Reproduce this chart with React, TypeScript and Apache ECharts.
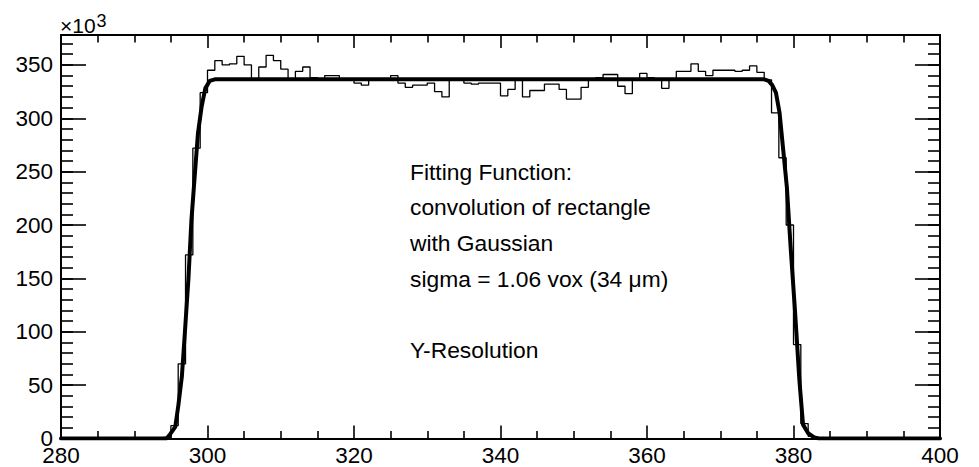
import React, { useEffect, useRef } from "react";
import * as echarts from "echarts";

// ---- axis / tick definitions ----
const xTicks = [280, 300, 320, 340, 360, 380, 400];
const yTicks = [0, 50, 100, 150, 200, 250, 300, 350];
const yMax = 378;
const xMinorPerMajor = 4;
const yMinorStep = 10;

// ---- histogram (bin width 1, first bin starts at 294) ----
const binFirst = 294;
const binWidth = 1;
const binCounts = [
  1, 12, 70, 172, 272, 324,
  345, 354, 350, 351, 358, 350, 337, 348, 359, 354,
  346, 337, 344, 348, 338, 337, 340, 340, 337, 336,
  333, 331, 336, 337, 336, 340, 333, 329, 331, 331,
  333, 325, 320, 337, 337, 333, 332, 333, 333, 333,
  321, 327, 336, 320, 326, 326, 332, 332, 327, 318,
  318, 329, 337, 338, 341, 341, 330, 323, 337, 342,
  338, 336, 328, 337, 344, 344, 351, 344, 340, 345,
  345, 345, 344, 345, 349, 343, 336, 305, 263, 200,
  88, 14, 2,
];

// ---- fitted curve ----
const fitX = [
  280, 294.4, 294.9, 295.6, 296.0, 296.5, 296.9, 297.4, 297.8, 298.3, 298.7,
  299.2, 299.7, 300.3, 301.0, 376.0, 376.6, 377.1, 377.6, 378.1, 378.6,
  379.1, 379.6, 380.2, 380.8, 381.3, 382.0, 382.8, 383.5, 400,
];
const fitY = [
  0, 0, 4, 11, 30, 58, 98, 150, 204, 250, 286,
  311, 328, 335, 336.5, 336.5, 335, 331, 324, 305, 270,
  235, 180, 120, 55, 13, 5, 1, 0, 0,
];

// ---- annotation text ----
const noteLines = [
  "Fitting Function:",
  "convolution of rectangle",
  "with Gaussian",
  "sigma = 1.06 vox (34 μm)",
  "",
  "Y-Resolution",
];
const exponentBase = "×10";
const exponentPower = "3";

const FONT = '"Liberation Sans", Arial, Helvetica, sans-serif';

export default function App() {
  const ref = useRef<HTMLDivElement>(null);

  useEffect(() => {
    if (!ref.current) return;
    const chart = echarts.init(ref.current, undefined, { renderer: "svg" });

    const histData: number[][] = [[binFirst, 0]];
    binCounts.forEach((c, i) => {
      const lo = binFirst + i * binWidth;
      histData.push([lo, c], [lo + binWidth, c]);
    });
    histData.push([binFirst + binCounts.length * binWidth, 0]);

    const fitData = fitX.map((x, i) => [x, fitY[i]]);

    const xMin = xTicks[0];
    const xMax = xTicks[xTicks.length - 1];
    const xInterval = xTicks[1] - xTicks[0];
    const yInterval = yTicks[1] - yTicks[0];

    const gridRect = { left: 61, top: 35, width: 879, height: 403.5 };
    const lineCol = "#000";

    const baseX = (position: "top" | "bottom", labels: boolean) => ({
      gridIndex: 0,
      type: "value",
      position,
      min: xMin,
      max: xMax,
      interval: xInterval,
      axisLine: { show: true, onZero: false, lineStyle: { color: lineCol, width: 2 } },
      axisTick: { show: true, inside: true, length: 13, lineStyle: { color: lineCol, width: 1.6 } },
      minorTick: {
        show: true,
        splitNumber: xMinorPerMajor,
        length: 7.5,
        lineStyle: { color: lineCol, width: 1.6 },
      },
      axisLabel: {
        show: labels,
        margin: 5,
        fontSize: 22.5,
        color: "#000",
        fontFamily: FONT,
        showMinLabel: true,
        showMaxLabel: true,
      },
      splitLine: { show: false },
      minorSplitLine: { show: false },
    });

    const baseY = (
      gridIndex: number,
      position: "left" | "right",
      interval: number,
      tickLen: number,
      showLine: boolean,
      labels: boolean
    ) => ({
      gridIndex,
      type: "value",
      position,
      min: 0,
      max: yMax,
      interval,
      axisLine: { show: showLine, onZero: false, lineStyle: { color: lineCol, width: 2 } },
      axisTick: { show: true, inside: true, length: tickLen, lineStyle: { color: lineCol, width: 1.6 } },
      axisLabel: {
        show: labels,
        margin: 8,
        fontSize: 22.5,
        color: "#000",
        fontFamily: FONT,
        padding: [6, 0, 0, 0],
        formatter: (v: number) => (yTicks.indexOf(v) >= 0 ? String(v) : ""),
      },
      splitLine: { show: false },
    });

    const graphic: any[] = [
      {
        type: "text",
        x: 60,
        y: 25.2,
        style: {
          text: exponentBase,
          font: `21px ${FONT}`,
          fill: "#000",
          align: "left",
          verticalAlign: "middle",
        },
      },
      {
        type: "text",
        x: 96.5,
        y: 20.5,
        style: {
          text: exponentPower,
          font: `18px ${FONT}`,
          fill: "#000",
          align: "left",
          verticalAlign: "middle",
        },
      },
    ];
    noteLines.forEach((t, i) => {
      if (!t) return;
      graphic.push({
        type: "text",
        x: 410,
        y: 171.7 + i * 35.6,
        style: {
          text: t,
          font: `22.8px ${FONT}`,
          fill: "#000",
          align: "left",
          verticalAlign: "middle",
        },
      });
    });

    chart.setOption({
      animation: false,
      backgroundColor: "#fff",
      textStyle: { fontFamily: FONT },
      grid: [{ ...gridRect }, { ...gridRect }],
      xAxis: [
        baseX("bottom", true),
        baseX("top", false),
        { gridIndex: 1, type: "value", min: xMin, max: xMax, show: false },
      ],
      yAxis: [
        baseY(0, "left", yInterval, 25, true, true),
        baseY(0, "right", yInterval, 25, true, false),
        baseY(1, "left", yMinorStep, 12, false, false),
        baseY(1, "right", yMinorStep, 12, false, false),
      ],
      series: [
        {
          type: "line",
          xAxisIndex: 0,
          yAxisIndex: 0,
          data: histData,
          symbol: "none",
          lineStyle: { color: "#000", width: 1.3 },
          z: 3,
        },
        {
          type: "line",
          xAxisIndex: 0,
          yAxisIndex: 0,
          data: fitData,
          symbol: "none",
          lineStyle: { color: "#000", width: 4, join: "round", cap: "round" },
          z: 4,
        },
      ],
      graphic,
    });

    return () => chart.dispose();
  }, []);

  return (
    <div
      ref={ref}
      style={{ position: "fixed", left: 0, top: 0, width: 979, height: 467, background: "#fff" }}
    />
  );
}
